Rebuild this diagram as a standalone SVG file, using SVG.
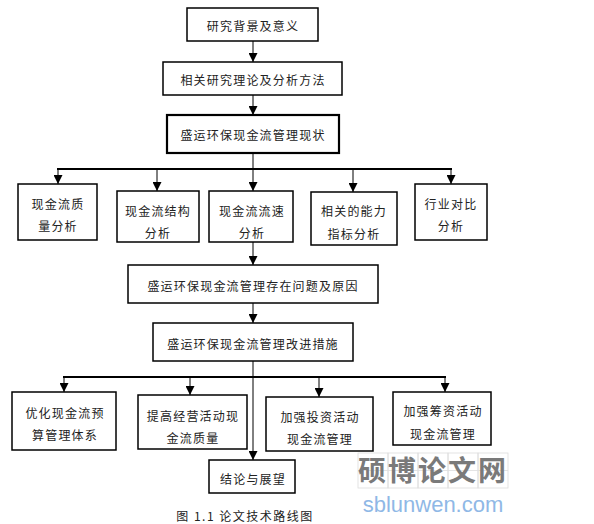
<svg xmlns="http://www.w3.org/2000/svg" width="594" height="524" viewBox="0 0 594 524">
<style>
.box{fill:#fff;stroke:#000;stroke-width:1.5}
.thick{stroke-width:2.2}
.t{font-family:"Noto Sans CJK SC","Liberation Sans",sans-serif;font-size:12px;letter-spacing:1.2px;fill:#222;text-anchor:middle;dominant-baseline:central}
.ln{stroke:#000;stroke-width:1;fill:none}
.bar{stroke:#000;stroke-width:2.2;fill:none}
</style>
<defs>
<marker id="ah" viewBox="0 0 10 10" refX="10" refY="5" markerWidth="9" markerHeight="9" markerUnits="userSpaceOnUse" orient="auto">
<path d="M0,0 L10,5 L0,10 z" fill="#000"/>
</marker>
</defs>
<rect width="594" height="524" fill="#fff"/>
<g id="connectors">
<line class="ln" x1="253" y1="41" x2="253" y2="62" marker-end="url(#ah)"/>
<line class="ln" x1="253" y1="95" x2="253" y2="115" marker-end="url(#ah)"/>
<line class="ln" x1="253" y1="153" x2="253" y2="169"/>
<line class="bar" x1="57" y1="169" x2="452" y2="169"/>
<line class="ln" x1="58" y1="169" x2="58" y2="184" marker-end="url(#ah)"/>
<line class="ln" x1="157" y1="169" x2="157" y2="191" marker-end="url(#ah)"/>
<line class="ln" x1="253" y1="169" x2="253" y2="191" marker-end="url(#ah)"/>
<line class="ln" x1="353" y1="169" x2="353" y2="192" marker-end="url(#ah)"/>
<line class="ln" x1="451" y1="169" x2="451" y2="184" marker-end="url(#ah)"/>
<line class="ln" x1="253" y1="242" x2="253" y2="265" marker-end="url(#ah)"/>
<line class="ln" x1="253" y1="303" x2="253" y2="323" marker-end="url(#ah)"/>
<line class="ln" x1="253" y1="361" x2="253" y2="460" marker-end="url(#ah)"/>
<line class="bar" x1="63" y1="377" x2="446" y2="377"/>
<line class="ln" x1="64" y1="377" x2="64" y2="392" marker-end="url(#ah)"/>
<line class="ln" x1="190" y1="377" x2="190" y2="395" marker-end="url(#ah)"/>
<line class="ln" x1="319" y1="377" x2="319" y2="397" marker-end="url(#ah)"/>
<line class="ln" x1="445" y1="377" x2="445" y2="392" marker-end="url(#ah)"/>
</g>
<g id="n1"><rect class="box" x="187" y="8" width="131" height="33"/><text class="t" x="253" y="25">研究背景及意义</text></g>
<g id="n2"><rect class="box" x="163" y="62" width="179" height="33"/><text class="t" x="253" y="79">相关研究理论及分析方法</text></g>
<g id="n3"><rect class="box thick" x="167" y="115" width="172" height="38"/><text class="t" x="253" y="134">盛运环保现金流管理现状</text></g>
<g id="a1"><rect class="box" x="18" y="184" width="79" height="56"/><text class="t" x="58" y="203">现金流质</text><text class="t" x="58" y="225">量分析</text></g>
<g id="a2"><rect class="box" x="117" y="191" width="82" height="51"/><text class="t" x="158" y="210">现金流结构</text><text class="t" x="158" y="232">分析</text></g>
<g id="a3"><rect class="box" x="209" y="191" width="84" height="51"/><text class="t" x="252" y="210">现金流流速</text><text class="t" x="252" y="232">分析</text></g>
<g id="a4"><rect class="box" x="311" y="192" width="86" height="53"/><text class="t" x="354" y="210">相关的能力</text><text class="t" x="354" y="233">指标分析</text></g>
<g id="a5"><rect class="box" x="415" y="184" width="72" height="56"/><text class="t" x="451" y="203">行业对比</text><text class="t" x="451" y="225">分析</text></g>
<g id="n4"><rect class="box" x="128" y="265" width="250" height="38"/><text class="t" x="253" y="285">盛运环保现金流管理存在问题及原因</text></g>
<g id="n5"><rect class="box" x="153" y="323" width="200" height="38"/><text class="t" x="253" y="343">盛运环保现金流管理改进措施</text></g>
<g id="b1"><rect class="box" x="12" y="392" width="104" height="58"/><text class="t" x="65" y="412">优化现金流预</text><text class="t" x="65" y="434">算管理体系</text></g>
<g id="b2"><rect class="box" x="138" y="395" width="109" height="54"/><text class="t" x="193" y="415">提高经营活动现</text><text class="t" x="193" y="437">金流质量</text></g>
<g id="b3"><rect class="box" x="266" y="397" width="107" height="54"/><text class="t" x="320" y="416">加强投资活动</text><text class="t" x="320" y="438">现金流管理</text></g>
<g id="b4"><rect class="box" x="393" y="392" width="98" height="53"/><text class="t" x="443" y="410">加强筹资活动</text><text class="t" x="443" y="433">现金流管理</text></g>
<g id="n6"><rect class="box" x="209" y="460" width="86" height="33"/><text class="t" x="253" y="478">结论与展望</text></g>
<text class="t" x="245" y="515" style="letter-spacing:1.5px">图 1.1 论文技术路线图</text>
<g id="watermark">
<g fill="none" stroke="#ddd" stroke-width="0.8">
<rect x="358" y="453" width="30" height="35"/><rect x="388" y="453" width="30" height="35"/><rect x="418" y="453" width="30" height="35"/><rect x="448" y="453" width="30" height="35"/><rect x="478" y="453" width="30" height="35"/>
<line x1="358" y1="470.5" x2="508" y2="470.5"/>
</g>
<text x="433" y="481" font-family="'Noto Sans CJK SC',sans-serif" font-size="28" font-weight="bold" fill="#7a7a7a" text-anchor="middle" letter-spacing="2">硕博论文网</text>
<text x="433" y="512" font-family="'Liberation Sans',sans-serif" font-size="22" fill="#8fb8e6" text-anchor="middle">sblunwen.com</text>
</g>
</svg>
